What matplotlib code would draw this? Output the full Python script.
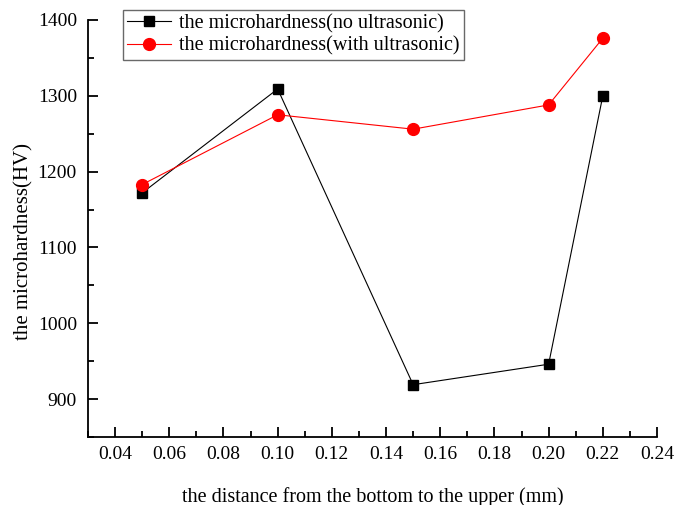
import matplotlib

matplotlib.use("Agg")
import matplotlib.pyplot as plt  # noqa: E402
from matplotlib.ticker import MultipleLocator  # noqa: E402

# data
distance = [0.05, 0.10, 0.15, 0.20, 0.22]
hv_no_ultra = [1172, 1309, 919, 946, 1300]
hv_with_ultra = [1183, 1275, 1256, 1288, 1376]

plt.rcParams["font.family"] = ["Liberation Serif", "DejaVu Serif"]

fig = plt.figure(figsize=(6.78, 5.05), dpi=100)
ax = fig.add_axes([88 / 678, 68 / 505, (657 - 88) / 678, (437 - 20) / 505])

ax.plot(distance, hv_no_ultra, color="black", lw=0.8, marker="s", ms=7.5,
        label="the microhardness(no ultrasonic)")
ax.plot(distance, hv_with_ultra, color="red", lw=0.8, marker="o", ms=8.5,
        label="the microhardness(with ultrasonic)")

ax.set_xlim(0.03, 0.24)
ax.set_ylim(850, 1400)
ax.xaxis.set_minor_locator(MultipleLocator(0.01))
ax.yaxis.set_minor_locator(MultipleLocator(50))
ax.set_xticks([0.04 + 0.02 * i for i in range(11)])
ax.set_xticklabels([f"{0.04 + 0.02 * i:.2f}" for i in range(11)])
ax.set_yticks([900, 1000, 1100, 1200, 1300, 1400])

for s in ("top", "right"):
    ax.spines[s].set_visible(False)
for s in ("left", "bottom"):
    ax.spines[s].set_linewidth(1.3)

ax.tick_params(which="both", direction="in", width=1.3, labelsize=14)
ax.tick_params(which="major", length=7)
ax.tick_params(which="minor", length=4)
ax.tick_params(axis="x", pad=6.5)
ax.tick_params(axis="y", pad=8)

ax.set_xlabel("the distance from the bottom to the upper (mm)", fontsize=14.5, labelpad=17)
ax.set_ylabel("the microhardness(HV)", fontsize=15)
ax.yaxis.set_label_coords(-0.095, 0.47)

leg = fig.legend(loc="upper left", bbox_to_anchor=(123 / 678, 1 - 10 / 505),
                 fontsize=14.5, frameon=True, fancybox=False, borderpad=0.2,
                 handlelength=2.2, handletextpad=0.4, labelspacing=0.15,
                 borderaxespad=0)
leg.get_frame().set_edgecolor("#444444")
leg.get_frame().set_linewidth(1.0)

fig.savefig("out.png", dpi=100)
